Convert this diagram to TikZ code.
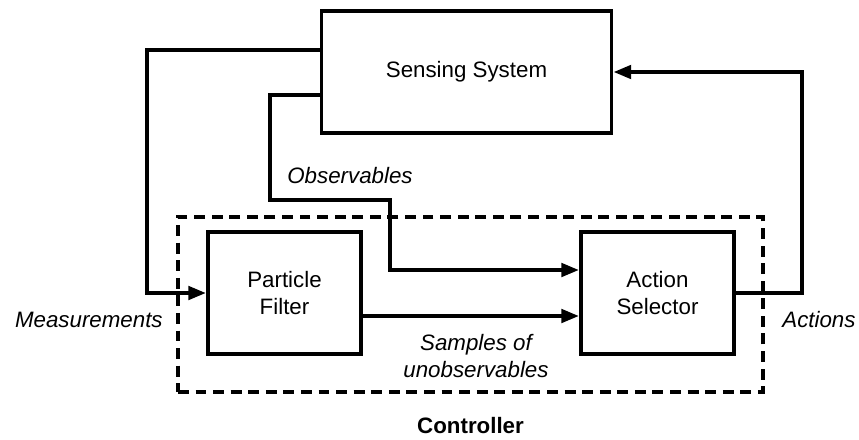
\documentclass[tikz,border=0pt]{standalone}
\usepackage{fontspec}
\setmainfont{Liberation Sans}
\usetikzlibrary{arrows.meta,positioning,calc}

\begin{document}
\begin{tikzpicture}[
    x=0.2mm, y=-0.2mm,
    block/.style={draw, line width=1.9pt, minimum width=3.06cm, minimum height=2.44cm, align=center, font=\fontsize{12.7}{15.4}\selectfont, inner sep=0pt},
    group/.style={draw, line width=2.2pt, dash pattern=on 6.2pt off 3.8pt, minimum width=11.7cm, minimum height=3.5cm, inner sep=0pt},
    connector/.style={-{Triangle[length=0.36cm,width=0.26cm]}, line width=2.7pt},
    lbl/.style={font=\fontsize{12.7}{15.4}\selectfont\itshape, inner sep=0pt, align=center}
  ]
    \useasboundingbox (0,0) rectangle (859,439);

    % Blocos
    \node[block, minimum width=5.8cm] (sensing) at (466.5,72) {Sensing System};
    \node[group] (controller) at (470.5,304.5) {};
    \node[block] (filter) at (284.5,293) {Particle\\Filter};
    \node[block] (selector) at (657.5,293) {Action\\Selector};
    \node[font=\fontsize{12.7}{15.4}\selectfont\bfseries, inner sep=0pt, below=0.46cm of controller] (ctrlLabel) {Controller};

    % Conectores
    \coordinate (measTurn) at (147,50);
    \draw[connector] (sensing.west |- measTurn) -- (measTurn) |- (filter.west);
    \coordinate (obsTurnA) at (270,95);
    \coordinate (obsTurnB) at (390,200);
    \draw[connector] (sensing.west |- obsTurnA) -- (obsTurnA) |- (obsTurnB) |- ($(selector.west)+(0,-23)$);
    \draw[connector] ($(filter.east)+(0,23)$) -- ($(selector.west)+(0,23)$);
    \coordinate (actTurn) at (802,293);
    \draw[connector] (selector.east) -- (actTurn) |- (sensing.east);

    % Rótulos
    \node[lbl, anchor=west] (obsLabel) at (287,176) {Observables};
    \node[lbl, anchor=east] (measLabel) at (163,320) {Measurements};
    \node[lbl, anchor=west] (actLabel) at (782,320) {Actions};
    \node[lbl] (sampLabel) at (476,356) {Samples of\\unobservables};
  \end{tikzpicture}
\end{document}
